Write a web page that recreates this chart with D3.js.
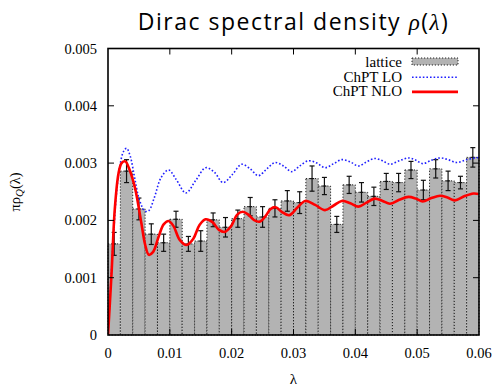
<!DOCTYPE html>
<html>
<head>
<meta charset="utf-8">
<script src="https://cdn.jsdelivr.net/npm/d3@7"></script>
<style>
  body { margin: 0; background: #fff; }
  text { font-family: "Liberation Serif", "Times New Roman", serif; }
</style>
</head>
<body>
<div id="chart"></div>
<script>
// lattice histogram: bin start (lambda), height and error, in units of 1e-3
const binStart = [0, 2, 4, 6, 8, 10, 12, 14, 16, 18, 20, 22, 24, 26, 28,
                  30, 32, 34, 36, 38, 40, 42, 44, 46, 48, 50, 52, 54, 56, 58];
const binWidth = 2;
const latticeRho = [1.59, 2.86, 2.20, 1.76, 1.61, 2.02, 1.59, 1.64, 2.01, 1.88,
                    2.03, 2.24, 2.06, 2.21, 2.34, 2.31, 2.73, 2.60, 1.93, 2.62,
                    2.49, 2.42, 2.68, 2.66, 2.88, 2.53, 2.90, 2.69, 2.66, 3.10];
const latticeErr = [0.20, 0.20, 0.19, 0.18, 0.15, 0.14, 0.13, 0.18, 0.12, 0.17,
                    0.15, 0.16, 0.18, 0.15, 0.18, 0.19, 0.22, 0.15, 0.14, 0.15,
                    0.17, 0.16, 0.14, 0.16, 0.15, 0.17, 0.16, 0.17, 0.11, 0.17];

// ChPT curves: [lambda, rho] in 1e-3
const chptLO = [[0,0],[0.4,0.8],[0.9,1.75],[1.4,2.5],[2.0,3.0],[2.5,3.2],[3.0,3.26],[3.6,3.12],
  [4.3,2.75],[5.1,2.35],[6.0,2.16],[6.6,2.17],[7.5,2.4],[8.6,2.75],[9.8,2.88],[11.0,2.72],
  [12.6,2.48],[14.2,2.70],[15.8,2.92],[17.2,2.84],[18.6,2.66],[20.1,2.80],[21.6,2.98],
  [23.0,2.90],[24.3,2.78],[25.7,2.90],[27.0,3.01],[28.4,2.95],[29.7,2.85],[31.0,2.95],
  [32.4,3.04],[33.8,3.00],[35.1,2.92],[36.5,2.99],[37.8,3.06],[39.2,3.02],[40.5,2.95],
  [41.8,3.02],[43.1,3.08],[44.4,3.04],[45.6,2.98],[47.1,3.04],[48.6,3.09],[49.8,3.05],
  [50.9,2.99],[52.3,3.05],[53.7,3.09],[55.0,3.06],[56.4,3.01],[58.0,3.06],[60,3.10]];
const chptNLO = [[0,0],[0.3,0.55],[0.6,1.13],[1.1,2.2],[1.7,2.82],[2.2,3.0],[2.8,3.03],
  [3.5,2.88],[4.4,2.55],[5.4,1.95],[6.0,1.58],[6.6,1.40],[7.3,1.45],[8.2,1.72],[9.0,1.93],
  [9.8,1.99],[10.6,1.90],[11.6,1.66],[12.7,1.57],[13.8,1.68],[14.8,1.92],[15.8,2.02],
  [16.9,1.97],[17.9,1.84],[18.9,1.80],[19.9,1.90],[20.9,2.10],[21.8,2.15],[22.7,2.10],
  [23.7,2.00],[24.6,1.98],[25.5,2.08],[26.3,2.20],[27.1,2.23],[28.1,2.15],[29.3,2.09],
  [30.6,2.22],[31.9,2.34],[33.5,2.27],[35.1,2.18],[36.5,2.26],[37.8,2.34],[39.2,2.30],
  [40.5,2.24],[41.8,2.31],[43.1,2.38],[44.4,2.34],[45.6,2.29],[47.1,2.36],[48.6,2.41],
  [49.8,2.38],[50.9,2.33],[52.3,2.39],[53.7,2.43],[54.9,2.40],[56.1,2.35],[57.6,2.42],
  [59.1,2.47],[60,2.46]];

const xTicks = [0, 0.01, 0.02, 0.03, 0.04, 0.05, 0.06];
const yTicks = [0, 0.001, 0.002, 0.003, 0.004, 0.005];
const legendLabels = ['lattice', 'ChPT LO', 'ChPT NLO'];

const serif = '"Liberation Serif", "Times New Roman", serif';

const figure_width = 499, figure_height = 386;
const plot_margin = { top: 48.5, right: 20, bottom: 51, left: 108 },
    plot_width = figure_width - plot_margin.left - plot_margin.right,
    plot_height = figure_height - plot_margin.top - plot_margin.bottom;

const svg = d3.select('div#chart')
  .append('svg')
    .attr('width', figure_width)
    .attr('height', figure_height);

const g = svg.append('g')
  .attr('transform', 'translate(' + plot_margin.left + ',' + plot_margin.top + ')');

const x = d3.scaleLinear().domain([0, 0.06]).range([0, plot_width]);
const y = d3.scaleLinear().domain([0, 0.005]).range([plot_height, 0]);

g.append('clipPath').attr('id', 'clip')
  .append('rect').attr('width', plot_width).attr('height', plot_height);

// bars
g.append('g')
  .selectAll('rect')
  .data(binStart)
  .enter().append('rect')
    .attr('x', function(d) { return x(d * 1e-3); })
    .attr('y', function(d, i) { return y(latticeRho[i] * 1e-3); })
    .attr('width', function(d) { return x((d + binWidth) * 1e-3) - x(d * 1e-3); })
    .attr('height', function(d, i) { return plot_height - y(latticeRho[i] * 1e-3); })
    .attr('fill', '#b3b3b3')
    .attr('stroke', '#222')
    .attr('stroke-width', 1)
    .attr('stroke-dasharray', '1.2,1.8');

// error bars
const eb = g.append('g').attr('stroke', '#111').attr('stroke-width', 1.2)
  .selectAll('g')
  .data(binStart)
  .enter().append('g')
    .attr('transform', function(d) { return 'translate(' + x((d + binWidth / 2) * 1e-3) + ',0)'; });
eb.append('line')
  .attr('y1', function(d, i) { return y((latticeRho[i] - latticeErr[i]) * 1e-3); })
  .attr('y2', function(d, i) { return y((latticeRho[i] + latticeErr[i]) * 1e-3); });
eb.append('line').attr('x1', -2.5).attr('x2', 2.5)
  .attr('y1', function(d, i) { return y((latticeRho[i] - latticeErr[i]) * 1e-3); })
  .attr('y2', function(d, i) { return y((latticeRho[i] - latticeErr[i]) * 1e-3); });
eb.append('line').attr('x1', -2.5).attr('x2', 2.5)
  .attr('y1', function(d, i) { return y((latticeRho[i] + latticeErr[i]) * 1e-3); })
  .attr('y2', function(d, i) { return y((latticeRho[i] + latticeErr[i]) * 1e-3); });
eb.append('line').attr('x1', -2).attr('x2', 2)
  .attr('y1', function(d, i) { return y(latticeRho[i] * 1e-3); })
  .attr('y2', function(d, i) { return y(latticeRho[i] * 1e-3); });

// curves
const line = d3.line()
  .x(function(d) { return x(d[0] * 1e-3); })
  .y(function(d) { return y(d[1] * 1e-3); })
  .curve(d3.curveCatmullRom);

g.append('path').datum(chptLO)
  .attr('clip-path', 'url(#clip)')
  .attr('d', line)
  .attr('fill', 'none')
  .attr('stroke', '#1f1fff')
  .attr('stroke-width', 1.6)
  .attr('stroke-dasharray', '1.6,2');

g.append('path').datum(chptNLO)
  .attr('clip-path', 'url(#clip)')
  .attr('d', line)
  .attr('fill', 'none')
  .attr('stroke', '#ff0000')
  .attr('stroke-width', 2.6);

// axes: gnuplot style inward ticks on all sides
const tickLen = 6;
const axes = g.append('g').attr('stroke', '#000').attr('stroke-width', 1);
xTicks.slice(1, -1).forEach(function(t) {
  axes.append('line').attr('x1', x(t)).attr('x2', x(t)).attr('y1', 0).attr('y2', tickLen);
  axes.append('line').attr('x1', x(t)).attr('x2', x(t)).attr('y1', plot_height).attr('y2', plot_height - tickLen);
});
yTicks.slice(1, -1).forEach(function(t) {
  axes.append('line').attr('x1', 0).attr('x2', tickLen).attr('y1', y(t)).attr('y2', y(t));
  axes.append('line').attr('x1', plot_width).attr('x2', plot_width - tickLen).attr('y1', y(t)).attr('y2', y(t));
});
g.append('rect')
  .attr('width', plot_width).attr('height', plot_height)
  .attr('fill', 'none').attr('stroke', '#000').attr('stroke-width', 1.6);

// tick labels
g.append('g').selectAll('text').data(xTicks).enter().append('text')
  .attr('x', function(d) { return x(d); })
  .attr('y', plot_height + 23)
  .attr('text-anchor', 'middle')
  .attr('font-size', 14.5)
  .style('font-family', serif)
  .text(function(d) { return d === 0 ? '0' : d3.format('.2f')(d); });
g.append('g').selectAll('text').data(yTicks).enter().append('text')
  .attr('x', -11)
  .attr('y', function(d) { return y(d) + 5; })
  .attr('text-anchor', 'end')
  .attr('font-size', 14.5)
  .style('font-family', serif)
  .text(function(d) { return d === 0 ? '0' : d3.format('.3f')(d); });

// axis titles
svg.append('text')
  .attr('x', plot_margin.left + plot_width / 2)
  .attr('y', 384)
  .attr('text-anchor', 'middle')
  .attr('font-size', 15)
  .style('font-family', serif)
  .text('λ');

const yl = svg.append('text')
  .attr('transform', 'translate(20,192) rotate(-90)')
  .attr('text-anchor', 'middle')
  .attr('font-size', 14.5)
  .style('font-family', serif);
yl.append('tspan').text('πρ');
yl.append('tspan').attr('font-style', 'italic').attr('font-size', 11).attr('dy', 3).text('Q');
yl.append('tspan').attr('dy', -3).text('(λ)');

// title
const title = svg.append('text')
  .attr('x', plot_margin.left + plot_width / 2)
  .attr('y', 30)
  .attr('text-anchor', 'middle')
  .attr('font-size', 23)
  .attr('letter-spacing', 1.5)
  .style('font-family', '"Open Sans", sans-serif')
  .style('font-weight', 400);
title.append('tspan').text('Dirac spectral density ');
title.append('tspan').style('font-family', serif).attr('font-style', 'italic').text('ρ');
title.append('tspan').text('(');
title.append('tspan').style('font-family', serif).attr('font-style', 'italic').text('λ');
title.append('tspan').text(')');

// legend
const legend = svg.append('g');
legendLabels.forEach(function(label, i) {
  const ly = 67 + i * 14.7;
  legend.append('text')
    .attr('x', 402).attr('y', ly)
    .attr('text-anchor', 'end')
    .attr('font-size', 15)
    .style('font-family', serif)
    .text(label);
  if (i === 0) {
    legend.append('rect').attr('x', 412).attr('y', ly - 9).attr('width', 46).attr('height', 7)
      .attr('fill', '#b3b3b3').attr('stroke', '#222').attr('stroke-width', 1)
      .attr('stroke-dasharray', '1.2,1.8');
  } else {
    legend.append('line').attr('x1', 412).attr('x2', 458).attr('y1', ly - 4.5).attr('y2', ly - 4.5)
      .attr('stroke', i === 1 ? '#1f1fff' : '#ff0000')
      .attr('stroke-width', i === 1 ? 1.6 : 2.6)
      .attr('stroke-dasharray', i === 1 ? '1.6,2' : null);
  }
});
</script>
</body>
</html>
